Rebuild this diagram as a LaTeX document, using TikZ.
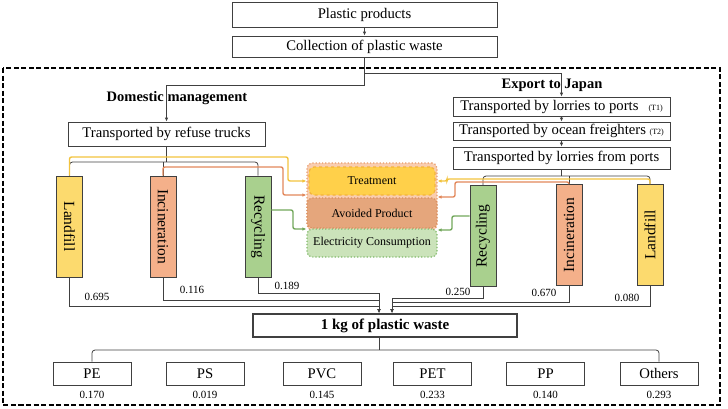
\documentclass[tikz,border=0pt]{standalone}
\usepackage{fontspec}
\setmainfont{Liberation Serif}
\usepackage{graphicx}
\usetikzlibrary{arrows.meta}

\definecolor{lfyellow}{HTML}{FCDA6E}
\definecolor{incorange}{HTML}{F4B08A}
\definecolor{recgreen}{HTML}{A9D08E}
\definecolor{lnyellow}{HTML}{F2C33E}
\definecolor{lnorange}{HTML}{E2875A}
\definecolor{lngreen}{HTML}{72A75B}
\definecolor{trtback}{HTML}{F9CDB0}
\definecolor{trtdot}{HTML}{E89C6C}
\definecolor{trtfill}{HTML}{FFD04A}
\definecolor{trtdash}{HTML}{F3B33C}
\definecolor{avofill}{HTML}{E5A67C}
\definecolor{avodot}{HTML}{D98E5E}
\definecolor{elefill}{HTML}{CBE3BA}
\definecolor{eledot}{HTML}{7FB868}

\begin{document}
\begin{tikzpicture}[x=1pt, y=-1pt,
    box/.style={draw=black!75, line width=0.8pt, inner sep=0pt,
        font=\fontsize{14.7}{16}\selectfont},
    bar/.style={draw=black!75, line width=0.8pt, inner sep=0pt,
        minimum width=26, minimum height=101,
        font=\fontsize{15.5}{17}\selectfont},
    tbox/.style={rounded corners=5pt, dotted, line width=1.2pt,
        minimum width=130, inner sep=0pt, font=\fontsize{12}{14}\selectfont},
    catbox/.style={box, minimum width=78, minimum height=23},
    val/.style={inner sep=1pt, font=\fontsize{11}{12}\selectfont},
    lbl/.style={inner sep=1pt, font=\fontsize{14.5}{16}\selectfont\bfseries},
    gline/.style={draw=black!75, line width=0.8pt},
    yline/.style={draw=lnyellow, line width=1.4pt, rounded corners=2pt},
    oline/.style={draw=lnorange, line width=1.4pt, rounded corners=2pt},
    gnline/.style={draw=lngreen, line width=1.4pt, rounded corners=2pt},
    arr/.style={-{Latex[length=4pt,width=3.5pt]}}
]
\useasboundingbox (0,0) rectangle (728,408);

% frame
\draw[line width=2pt, dash pattern=on 5pt off 2.5pt] (3,68) rectangle (720,405);

% top
\node[box, minimum width=265, minimum height=25] (prod) at (364.5,14.5) {Plastic products};
\node[box, minimum width=265, minimum height=21] (coll) at (364.5,46.5) {Collection of plastic waste};
\node[lbl] (dom) at (177,98) {Domestic management};
\node[lbl] (exp) at (552,85) {Export to Japan};
\node[box, minimum width=197, minimum height=24] (trucks) at (166.5,134) {Transported by refuse trucks};
\node[box, minimum width=217, minimum height=19] (lorA) at (561.5,106.5)
    {Transported by lorries to ports\hspace{10pt}{\fontsize{8}{9}\selectfont(T1)}};
\node[box, minimum width=217, minimum height=18] (lorB) at (561.5,131)
    {Transported by ocean freighters {\fontsize{8}{9}\selectfont(T2)}};
\node[box, minimum width=217, minimum height=22] (lorC) at (561.5,158) {Transported by lorries from ports};

% bars
\node[bar, fill=lfyellow] (landL) at (69.5,226.5) {\rotatebox{-90}{Landfill}};
\node[bar, fill=incorange] (incL) at (163,226.5) {\rotatebox{-90}{Incineration}};
\node[bar, fill=recgreen] (recL) at (258,226.5) {\rotatebox{-90}{Recycling}};
\node[bar, fill=recgreen] (recR) at (483,236) {\rotatebox{90}{Recycling}};
\node[bar, fill=incorange] (incR) at (569,235) {\rotatebox{90}{Incineration}};
\node[bar, fill=lfyellow] (landR) at (650,235) {\rotatebox{90}{Landfill}};

% treatment stack
\node[tbox, draw=trtdot, fill=trtback, minimum height=67] (tgrp) at (372,196.5) {};
\node[tbox, draw=trtdash, dashed, fill=trtfill, minimum width=126, minimum height=28] (trt) at (372,181) {Treatment};
\node[tbox, draw=avodot, fill=avofill, minimum height=30] (avo) at (372,213) {Avoided Product};
\node[tbox, draw=eledot, fill=elefill, minimum height=28] (ele) at (372,243) {Electricity Consumption};

% top arrows
\draw[gline, arr] (prod) -- (coll);
\draw[gline, arr] (coll.south) |- (trucks.north |- 0,85) -- (trucks.north);
\draw[gline, arr] (coll.south) |- (lorA.north |- 0,73) -- (lorA.north);
\draw[gline, arr] (lorA) -- (lorB);
\draw[gline, arr] (lorB) -- (lorC);

% domestic side
\draw[gline] (trucks.south) -- (trucks.south |- 0,162);
\draw[gline, rounded corners=3pt] (landL.north) |- (recL.north |- 0,162) -- (recL.north);
\draw[gline] (incL.north) -- (incL.north |- 0,162);
\draw[yline, arr] (landL.north) |- (288,157) |- (tgrp.west |- trt.west);
\draw[oline, arr] (incL.north) |- (283,167) |- (tgrp.west |- 0,195);
\draw[gnline, arr] (recL.east |- 0,210) -| (293,229) -- (ele.west |- 0,229);

% export side
\draw[gline] (lorC.south) -- (lorC.south |- 0,176);
\draw[gline, rounded corners=3pt] (recR.north) |- (landR.north |- 0,176) -- (landR.north);
\draw[gline] (incR.north) -- (incR.north |- 0,176);
\draw[yline, arr] (landR.north) |- (447,179) |- (tgrp.east |- trt.east);
\draw[oline, arr] (incR.north) |- (455,182) |- (tgrp.east |- 0,197);
\draw[gnline, arr] (recR.west |- 0,216) -| (452,230) -- (ele.east |- 0,230);

% total
\node[box, line width=2pt, minimum width=264, minimum height=23,
    font=\fontsize{15}{16}\selectfont\bfseries] (kg) at (385,325.5) {1 kg of plastic waste};
\coordinate (inL) at ([xshift=-6pt]kg.north);
\coordinate (inR) at ([xshift=7pt]kg.north);

\draw[gline, arr] (landL.south) |- (inL |- 0,306) -- (inL);
\draw[gline, arr] (incL.south) |- (inL |- 0,300) -- (inL);
\draw[gline, arr] (recL.south) |- (inL |- 0,293) -- (inL);
\draw[gline, arr] (recR.south) |- (inR |- 0,298) -- (inR);
\draw[gline, arr] (incR.south) |- (inR |- 0,302) -- (inR);
\draw[gline, arr] (landR.south) |- (inR |- 0,306) -- (inR);

\node[val] (vlandL) at (97,297) {0.695};
\node[val] (vincL) at (192,290) {0.116};
\node[val] (vrecL) at (287,286) {0.189};
\node[val] (vrecR) at (458,292) {0.250};
\node[val] (vincR) at (544,293) {0.670};
\node[val] (vlandR) at (627,298) {0.080};

% plastic types
\node[catbox] (pe) at (92,373.5) {PE};
\node[catbox] (ps) at (205,373.5) {PS};
\node[catbox] (pvc) at (322,373.5) {PVC};
\node[catbox] (pet) at (432.5,373.5) {PET};
\node[catbox] (pp) at (545.5,373.5) {PP};
\node[catbox] (oth) at (659,373.5) {Others};
\draw[gline] (inL |- kg.south) -- (inL |- 0,350);
\draw[gline, rounded corners=3pt] (pe.north) |- (oth.north |- 0,350) -- (oth.north);

\node[val] (vpe) at (92,395) {0.170};
\node[val] (vps) at (205,395) {0.019};
\node[val] (vpvc) at (322,395) {0.145};
\node[val] (vpet) at (432.5,395) {0.233};
\node[val] (vpp) at (545.5,395) {0.140};
\node[val] (voth) at (659,395) {0.293};
\end{tikzpicture}
\end{document}
